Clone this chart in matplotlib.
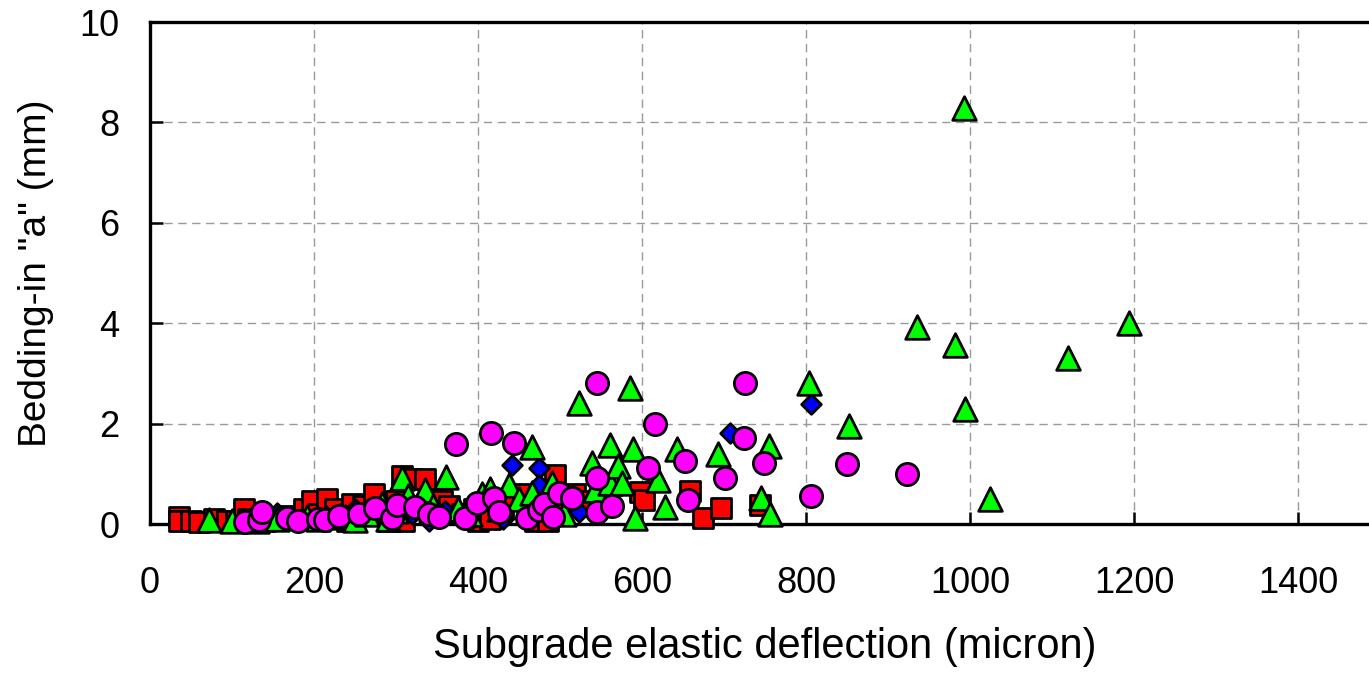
import matplotlib.pyplot as plt

plt.rcParams['font.family'] = ['Liberation Sans', 'DejaVu Sans']

# deflection (micron) and bedding-in (mm) per section group
sq_x = [35, 35, 50, 60, 78, 94, 105, 115, 120, 140, 160, 170, 188, 197, 205, 216, 225, 235,
        240, 246, 260, 273, 280, 290, 300, 307, 310, 320, 335, 345, 356, 365, 380, 395, 400,
        415, 430, 440, 455, 470, 480, 485, 494, 500, 518, 530, 597, 602, 659, 674, 696, 744]
sq_y = [0.14, 0.05, 0.06, 0.04, 0.10, 0.06, 0.05, 0.30, 0.10, 0.05, 0.10, 0.15, 0.30, 0.45,
        0.20, 0.50, 0.30, 0.15, 0.05, 0.40, 0.35, 0.60, 0.20, 0.05, 0.45, 0.95, 0.05, 0.90,
        0.90, 0.50, 0.45, 0.35, 0.20, 0.30, 0.05, 0.10, 0.30, 0.50, 0.60, 0.05, 0.30, 0.05,
        0.98, 0.40, 0.60, 0.45, 0.64, 0.48, 0.65, 0.12, 0.32, 0.37]

dm_x = [130, 155, 175, 215, 232, 250, 270, 320, 340, 350, 360, 390, 430, 441, 474, 474,
        485, 523, 707, 806]
dm_y = [0.10, 0.22, 0.10, 0.15, 0.20, 0.30, 0.20, 0.20, 0.05, 0.15, 0.25, 0.05, 0.10, 1.18,
        1.11, 0.78, 0.30, 0.24, 1.82, 2.40]

tr_x = [72, 100, 130, 155, 191, 205, 238, 250, 265, 283, 290, 300, 307, 315, 330, 335, 345,
        361, 375, 390, 405, 415, 425, 438, 450, 466, 466, 475, 490, 505, 523, 539, 543, 561,
        561, 571, 576, 585, 589, 591, 620, 628, 643, 693, 745, 755, 756, 804, 852, 935, 982,
        993, 994, 1024, 1120, 1194]
tr_y = [0.08, 0.05, 0.05, 0.10, 0.14, 0.10, 0.14, 0.08, 0.20, 0.40, 0.10, 0.25, 0.91, 0.55,
        0.50, 0.68, 0.35, 0.94, 0.30, 0.20, 0.60, 0.70, 0.30, 0.78, 0.50, 1.53, 0.62, 0.40,
        0.82, 0.20, 2.41, 1.22, 0.68, 1.58, 0.82, 1.15, 0.82, 2.70, 1.50, 0.12, 0.88, 0.34,
        1.50, 1.40, 0.52, 1.55, 0.20, 2.80, 1.95, 3.92, 3.56, 8.29, 2.30, 0.50, 3.30, 4.00]

ci_x = [116, 133, 137, 167, 180, 205, 213, 230, 255, 274, 295, 301, 323, 340, 352, 373, 384,
        399, 416, 419, 425, 444, 460, 474, 480, 492, 499, 515, 545, 545, 545, 563, 607, 616,
        652, 656, 701, 724, 726, 749, 806, 850, 923]
ci_y = [0.04, 0.08, 0.24, 0.12, 0.05, 0.10, 0.08, 0.15, 0.20, 0.32, 0.12, 0.38, 0.34, 0.20,
        0.14, 1.60, 0.12, 0.42, 1.81, 0.52, 0.24, 1.61, 0.12, 0.28, 0.40, 0.14, 0.62, 0.52,
        2.81, 0.92, 0.24, 0.36, 1.11, 2.00, 1.26, 0.47, 0.91, 1.71, 2.80, 1.21, 0.56, 1.20,
        1.00]

fig = plt.figure(figsize=(13.69, 6.73), dpi=100)
ax = fig.add_axes([150 / 1369, 149 / 673, 1230 / 1369, 502 / 673])

kw = dict(edgecolors='black', linewidths=2.0, clip_on=False)
ax.scatter(sq_x, sq_y, marker='s', s=15 ** 2, c='#ff0000', zorder=3, **kw)
ax.scatter(dm_x, dm_y, marker='D', s=10 ** 2, c='#0000ff', zorder=4, **kw)
ax.scatter(tr_x, tr_y, marker='^', s=17 ** 2, c='#00ff00', zorder=5, **kw)
ax.scatter(ci_x, ci_y, marker='o', s=16 ** 2, c='#ff00ff', zorder=6, **kw)

ax.set_xlim(0, 1500)
ax.set_ylim(0, 10)
ax.set_xticks(range(0, 1401, 200))
ax.set_yticks(range(0, 11, 2))
ax.grid(True, color='#999999', linestyle=(0, (6, 4)), linewidth=1)
ax.set_axisbelow(True)

for side in ['left', 'bottom', 'top', 'right']:
    ax.spines[side].set_linewidth(2.4)
ax.tick_params(direction='in', length=9, width=1.8, labelsize=26,
               top=False, right=False)
ax.tick_params(axis='x', pad=30)
ax.tick_params(axis='y', pad=22)

ax.set_xlabel('Subgrade elastic deflection (micron)', fontsize=30, labelpad=19)
ax.set_ylabel('Bedding-in "a" (mm)', fontsize=28, labelpad=18)

fig.savefig('out.png', dpi=100)
